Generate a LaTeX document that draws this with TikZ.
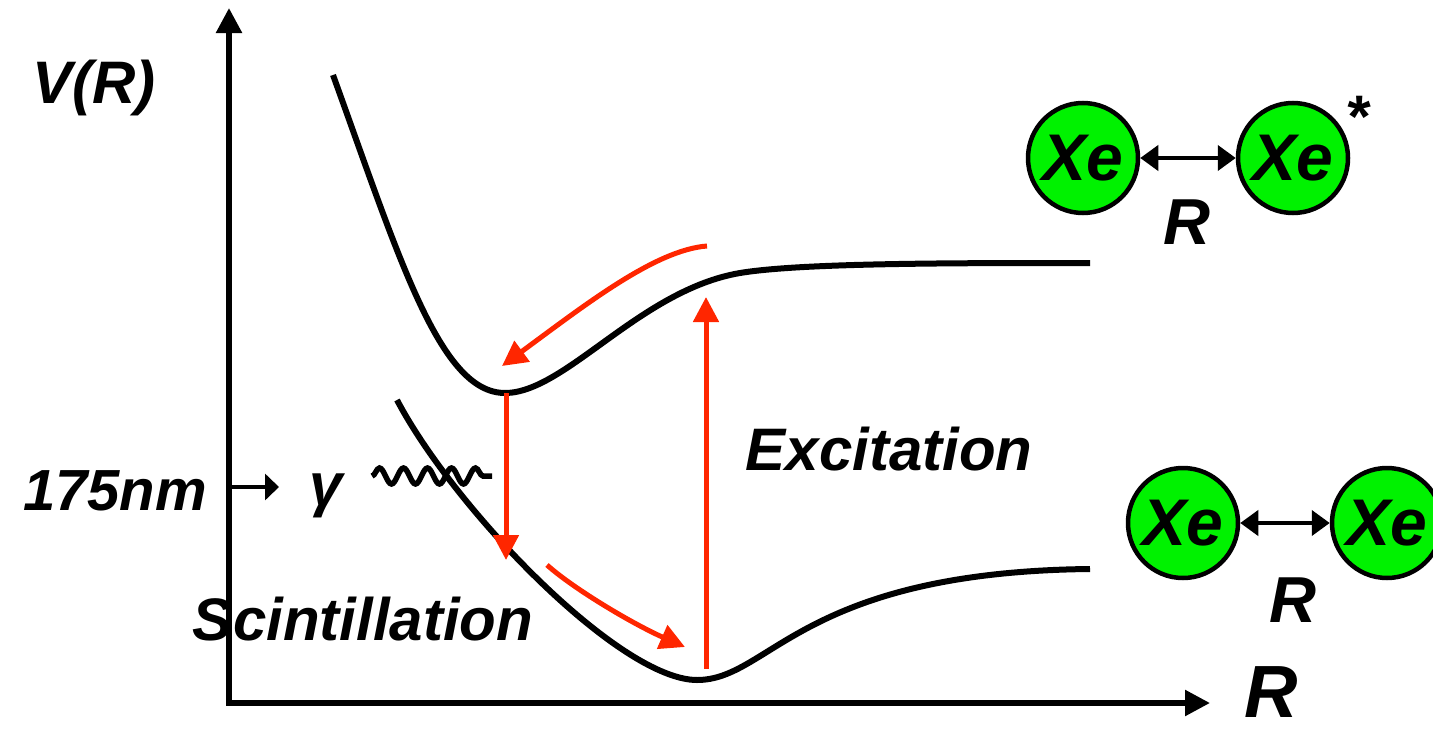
\documentclass[tikz,border=0pt]{standalone}
\usepackage{fontspec}
\setmainfont{Liberation Sans}
\usetikzlibrary{arrows.meta,decorations.pathmorphing}
\definecolor{xered}{RGB}{255,38,0}
\definecolor{xegreen}{RGB}{0,242,0}
\begin{document}
\begin{tikzpicture}[x=1pt,y=-1pt,
  lbl/.style={font=\fontsize{60}{60}\selectfont\bfseries\itshape, inner sep=0pt},
  axis/.style={line width=5.5pt, {Triangle[length=25pt,width=25pt]}-{Triangle[length=25pt,width=25pt]}},
  curve/.style={line width=6pt},
  redarrow/.style={xered, line width=5pt, -{Triangle[length=25pt,width=25pt]}},
  atom/.style={circle, draw=black, line width=4.5pt, fill=xegreen, minimum size=110pt, inner sep=0pt,
    font=\fontsize{66}{66}\selectfont\bfseries\itshape},
  bond/.style={line width=4pt, {Triangle[length=18pt,width=25pt]}-{Triangle[length=18pt,width=25pt]}}
]
\useasboundingbox (0,0) rectangle (1433,736);
\clip (0,0) rectangle (1433,736);

% axes
\coordinate (ytip) at (229,8);
\coordinate (xtip) at (1210,703);
\draw[axis] (ytip) |- (xtip);

% axis labels
\node[lbl, anchor=base] (vr) at (94,103) {V(R)};
\node[lbl, font=\fontsize{74}{74}\selectfont\bfseries\itshape] (rax) at (1271,692) {R};

% potential curves
\coordinate (us) at (333,75);
\coordinate (umin) at (505,393);
\coordinate (uk) at (740,273);
\coordinate (ue) at (1090,263);
\draw[curve] (us) .. controls (400,260) and (440,393) .. (umin)
  .. controls (565,393) and (640,290) .. (uk)
  .. controls (800,263) and (950,263) .. (ue);
\coordinate (ls) at (397,400);
\coordinate (lmin) at (697,680);
\coordinate (le) at (1090,569);
\draw[curve] (ls) .. controls (455,510) and (620,680) .. (lmin)
  .. controls (770,680) and (800,572) .. (le);

% red arrows
\coordinate (dtop) at (506,393);
\coordinate (dtip) at (506,560);
\draw[redarrow] (dtop) -- (dtip);
\coordinate (ubot) at (706,669);
\coordinate (utip) at (706,297);
\draw[redarrow] (ubot) -- (utip);
\coordinate (c1s) at (707,246);
\coordinate (c1e) at (502,366);
\draw[redarrow] (c1s) .. controls (655,250) and (585,305) .. (c1e);
\coordinate (c2s) at (547,565);
\coordinate (c2e) at (685,647);
\draw[redarrow] (c2s) .. controls (575,590) and (635,625) .. (c2e);

% labels
\node[lbl, anchor=base] (exc) at (889,470) {Excitation};
\node[lbl, anchor=base] (sci) at (363,640) {Scintillation};
\node[lbl, anchor=base, font=\fontsize{58}{58}\selectfont\bfseries\itshape] (nm) at (115,510) {175nm};
\node[lbl, anchor=base] (gam) at (326,505) {γ};

% 175nm arrow
\coordinate (nmstart) at (229,487);
\coordinate (nmtip) at (279,487);
\draw[line width=4.5pt, -{Triangle[length=14pt,width=26pt]}] (nmstart) -- (nmtip);

% photon
\coordinate (ws) at (372,476);
\coordinate (we) at (492,476);
\draw[line width=5.5pt, decorate, decoration={snake, segment length=24pt, amplitude=8pt}] (ws) -- (we);

% excited dimer
\node[atom] (xa) at (1083,158) {Xe};
\node[atom] (xb) at (1293,158) {Xe};
\draw[bond] (xa) -- (xb);
\node[lbl, font=\fontsize{65}{65}\selectfont\bfseries\itshape] (r1) at (1187,222) {R};
\node[lbl, anchor=base] (star) at (1357,137) {*};

% ground dimer
\node[atom] (xc) at (1183,523) {Xe};
\node[atom] (xd) at (1387,523) {Xe};
\draw[bond] (xc) -- (xd);
\node[lbl, font=\fontsize{65}{65}\selectfont\bfseries\itshape] (r2) at (1293,600) {R};
\end{tikzpicture}
\end{document}
